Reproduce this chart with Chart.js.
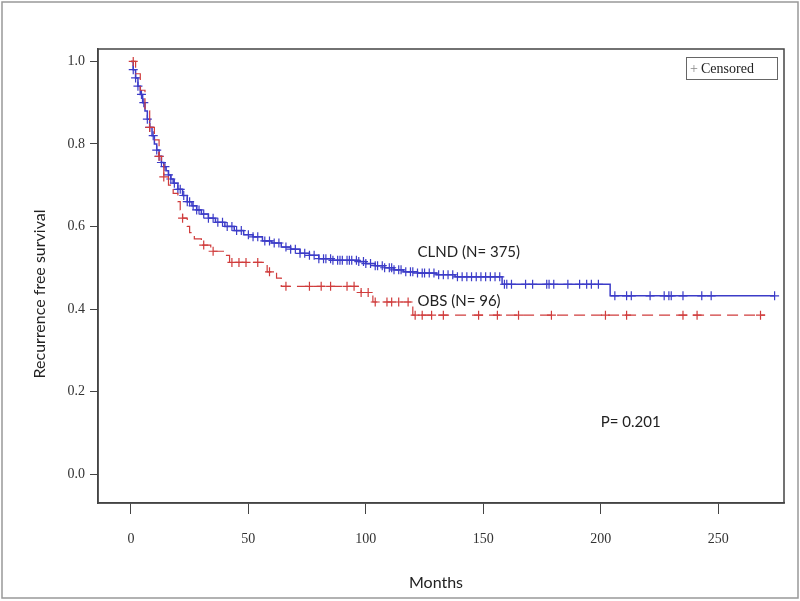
<!DOCTYPE html>
<html>
<head>
<meta charset="utf-8">
<script src="https://cdn.jsdelivr.net/npm/chart.js@4"></script>
<style>
  body { margin: 0; background: #fff; }
  #wrap { width: 800px; height: 601px; }
</style>
</head>
<body>
<div id="wrap"><canvas id="kmChart" width="800" height="601"></canvas></div>
<script>
// x axis: months, y axis: recurrence free survival
const xTicks = [0, 50, 100, 150, 200, 250];
const yTicks = [0.0, 0.2, 0.4, 0.6, 0.8, 1.0];

// CLND (N=375) Kaplan-Meier steps (time, survival)
const clndTimes = [0, 1, 2, 3, 4, 5, 6, 7, 8, 9, 10, 11, 12, 13, 14, 15, 16, 17, 18, 20, 22, 24, 26, 28, 30, 33, 36, 40, 44, 48, 52, 56, 60, 64, 68, 72, 76, 80, 86, 97, 100, 104, 108, 112, 116, 122, 130, 138, 158, 204, 274];
const clndSurv  = [1.0, 0.98, 0.96, 0.94, 0.92, 0.90, 0.88, 0.86, 0.84, 0.82, 0.80, 0.785, 0.77, 0.755, 0.745, 0.735, 0.725, 0.715, 0.705, 0.69, 0.675, 0.66, 0.65, 0.64, 0.63, 0.62, 0.61, 0.60, 0.59, 0.58, 0.575, 0.565, 0.56, 0.55, 0.545, 0.535, 0.53, 0.522, 0.518, 0.515, 0.51, 0.505, 0.50, 0.495, 0.49, 0.487, 0.483, 0.478, 0.46, 0.432, 0.432];
const clndCensored = [1, 2, 3, 4.5, 5.5, 7, 8, 9.5, 11, 12, 13, 14.5, 16, 17, 18.5, 20, 21, 22.5, 24, 25, 26.5, 28, 29, 31, 33, 35, 37, 39, 41, 43, 45, 47, 50, 52, 54, 57, 59, 61, 63, 66, 68, 70, 72, 74, 76, 78, 80, 82, 83, 85, 86, 88, 89, 90, 92, 93, 94, 96, 97, 99, 100, 102, 104, 105, 107, 108, 110, 111, 112, 114, 115, 117, 119, 120, 122, 124, 125, 127, 129, 131, 133, 135, 137, 139, 141, 143, 145, 147, 149, 151, 153, 155, 157, 159, 160, 162, 168, 171, 177, 178, 180, 186, 191, 194, 196, 199, 206, 211, 213, 221, 227, 229, 230, 235, 243, 247, 274];

// OBS (N=96)
const obsTimes = [0, 2, 4, 6, 8, 10, 12, 13, 14, 16, 18, 20, 21, 22, 24, 25, 27, 30, 34, 40, 42, 58, 62, 64, 98, 103, 120, 270];
const obsSurv  = [1.0, 0.97, 0.93, 0.88, 0.84, 0.81, 0.77, 0.75, 0.72, 0.70, 0.68, 0.66, 0.64, 0.62, 0.60, 0.585, 0.57, 0.555, 0.54, 0.53, 0.513, 0.49, 0.475, 0.455, 0.44, 0.417, 0.385, 0.385];
const obsCensored = [1, 8, 12, 14, 22, 31, 35, 43, 46, 49, 54, 59, 66, 76, 81, 85, 92, 95, 98, 101, 104, 109, 111, 114, 118, 121, 124, 128, 133, 148, 156, 165, 179, 202, 211, 235, 241, 268];

const blue = '#3c3cc8';
const red = '#d03c3c';

function survAt(times, surv, t) {
  let s = surv[0];
  for (let i = 0; i < times.length; i++) {
    if (times[i] <= t) s = surv[i];
  }
  return s;
}

const clndLine = clndTimes.map((t, i) => ({x: t, y: clndSurv[i]}));
const obsLine = obsTimes.map((t, i) => ({x: t, y: obsSurv[i]}));
const clndMarks = clndCensored.map(t => ({x: t, y: survAt(clndTimes, clndSurv, t)}));
const obsMarks = obsCensored.map(t => ({x: t, y: survAt(obsTimes, obsSurv, t)}));

const extras = {
  id: 'extras',
  afterDraw(chart) {
    const {ctx, chartArea: a, scales: {x, y}} = chart;
    ctx.save();
    // plot frame
    ctx.strokeStyle = '#444';
    ctx.lineWidth = 1.5;
    ctx.strokeRect(a.left, a.top, a.right - a.left, a.bottom - a.top);
    // figure border
    ctx.strokeStyle = '#999';
    ctx.lineWidth = 1.5;
    ctx.strokeRect(2, 2, 796, 596);

    // axis titles
    ctx.fillStyle = '#222';
    ctx.font = '16px Lato';
    ctx.textAlign = 'center';
    ctx.textBaseline = 'middle';
    ctx.fillText('Months', 436, 583);
    ctx.save();
    ctx.translate(40, 294);
    ctx.rotate(-Math.PI / 2);
    ctx.fillText('Recurrence free survival', 0, 0);
    ctx.restore();

    // labels
    ctx.font = '15px Lato';
    ctx.textAlign = 'left';
    ctx.fillText('CLND (N= 375)', x.getPixelForValue(122), y.getPixelForValue(0.538));
    ctx.fillText('OBS (N= 96)', x.getPixelForValue(122), y.getPixelForValue(0.42));
    ctx.fillText('P= 0.201', x.getPixelForValue(200), y.getPixelForValue(0.125));

    // legend box
    ctx.strokeStyle = '#666';
    ctx.lineWidth = 1;
    ctx.strokeRect(686.5, 57.5, 91, 22);
    ctx.font = '14px "Liberation Serif"';
    ctx.fillStyle = '#888';
    ctx.fillText('+', 690, 69);
    ctx.fillStyle = '#222';
    ctx.fillText('Censored', 701, 69);
    ctx.restore();
  }
};

new Chart(document.getElementById('kmChart'), {
  type: 'line',
  data: {
    datasets: [
      { label: 'OBS', data: obsLine, borderColor: red, borderWidth: 1.2, borderDash: [11, 6], stepped: 'before', pointRadius: 0, fill: false },
      { label: 'OBS censored', data: obsMarks, showLine: false, pointStyle: 'cross', pointRadius: 4.5, borderColor: red, borderWidth: 1.2 },
      { label: 'CLND', data: clndLine, borderColor: blue, borderWidth: 1.5, stepped: 'before', pointRadius: 0, fill: false },
      { label: 'CLND censored', data: clndMarks, showLine: false, pointStyle: 'cross', pointRadius: 4.5, borderColor: blue, borderWidth: 1.2 }
    ]
  },
  options: {
    responsive: false,
    animation: false,
    layout: { padding: { left: 0, top: 49, right: 16, bottom: 0 } },
    plugins: { legend: { display: false }, tooltip: { enabled: false } },
    scales: {
      x: {
        type: 'linear',
        min: -14,
        max: 278,
        afterBuildTicks: s => { s.ticks = xTicks.map(v => ({value: v})); },
        afterFit: s => { s.height = 98; },
        grid: { display: true, drawOnChartArea: false, drawTicks: true, tickLength: 11, color: '#444' },
        border: { display: true, color: '#444', width: 1.5 },
        ticks: { color: '#333', padding: 17, font: { family: 'Liberation Serif', size: 14 }, maxRotation: 0 },
        title: { display: false }
      },
      y: {
        type: 'linear',
        min: -0.07,
        max: 1.03,
        afterBuildTicks: s => { s.ticks = yTicks.map(v => ({value: v})); },
        afterFit: s => { s.width = 98; },
        grid: { display: true, drawOnChartArea: false, drawTicks: true, tickLength: 8, color: '#444' },
        border: { display: true, color: '#444', width: 1.5 },
        ticks: { color: '#333', padding: 5, font: { family: 'Liberation Serif', size: 14 }, callback: v => v.toFixed(1) },
        title: { display: false }
      }
    }
  },
  plugins: [extras]
});
</script>
</body>
</html>
